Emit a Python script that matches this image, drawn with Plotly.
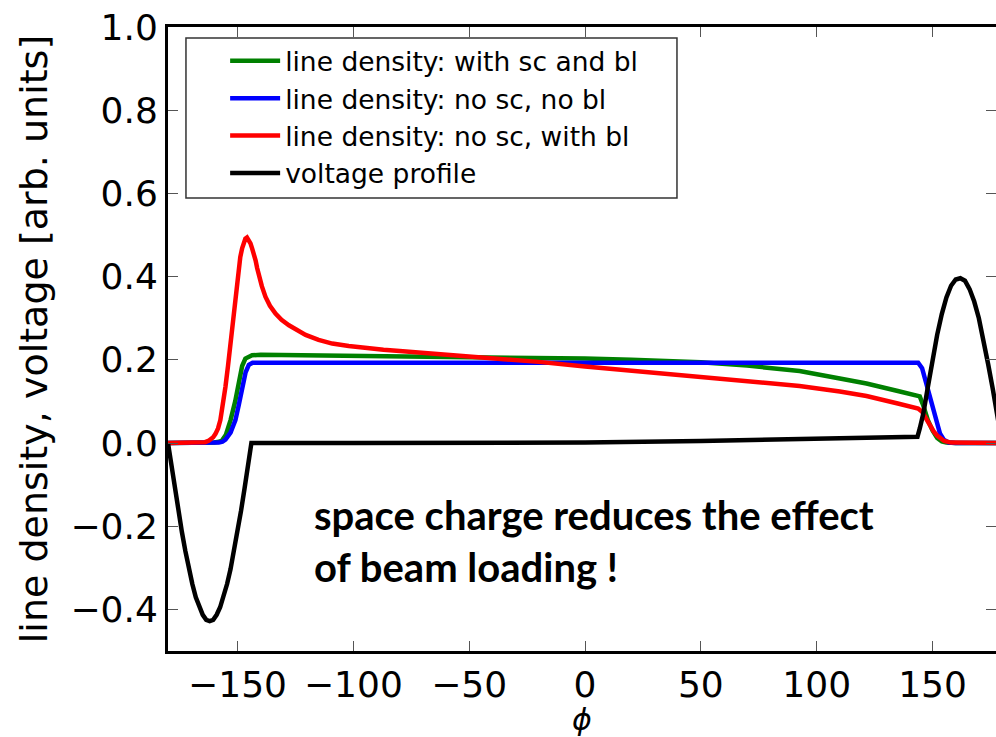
import plotly.graph_objects as go

# ---- data ----
green_x = [-180, -165, -160, -158, -156.7, -155, -153, -151, -149.5, -148, -146.6, -145, -143.7,
           -140, -120, -100, -80, -50, -20, 0, 20, 50, 70, 92.6, 110, 121.5, 135, 144.5,
           146, 148, 150, 152, 154, 156, 160, 180]
green_y = [0, 0, 0.001, 0.003, 0.006, 0.02, 0.055, 0.1, 0.15, 0.185, 0.203, 0.209, 0.211,
           0.212, 0.211, 0.210, 0.209, 0.207, 0.205, 0.203, 0.200, 0.194, 0.186, 0.173, 0.155, 0.143, 0.125, 0.112,
           0.09, 0.055, 0.03, 0.012, 0.004, 0.001, 0, 0]

blue_x = [-180, -162, -158, -156.5, -155.2, -153, -150.9, -149.5, -148, -146.5, -145.1, -143.5, -142,
          143.8, 145.5, 147, 148.5, 150.2, 151.7, 153.2, 155, 157, 160, 180]
blue_y = [0, 0, 0.001, 0.003, 0.008, 0.025, 0.055, 0.09, 0.135, 0.17, 0.188, 0.193, 0.193,
          0.193, 0.18, 0.15, 0.12, 0.087, 0.05, 0.023, 0.007, 0.001, 0, 0]

red_x = [-180, -168, -164, -162.3, -160.5, -159.5, -158.4, -157.4, -156.3, -155.2, -154.1, -153.1,
         -152, -150.9, -149.8, -148.8, -148, -147.3, -146.6, -145.9, -145.2,
         -144.4, -143.7, -142.9, -142.2, -141.5, -140.8, -139.5, -137.9, -136, -133.6, -131, -127.8,
         -124, -120.6, -115, -109.1, -102, -94.7, -87, -80, -70, -60, -42,
         -20, 0, 20, 49.5, 70, 92.6, 110, 121.5, 135, 143.8,
         145.5, 147.4, 149, 150.5, 152, 153.2, 155, 158, 180]
red_y = [0, 0, 0.002, 0.006, 0.014, 0.022, 0.035, 0.055, 0.09, 0.135, 0.185, 0.239,
         0.3, 0.359, 0.41, 0.447, 0.468, 0.483, 0.491, 0.494, 0.489,
         0.48, 0.468, 0.454, 0.439, 0.42, 0.402, 0.377, 0.351, 0.33, 0.311, 0.296, 0.283,
         0.27, 0.26, 0.248, 0.239, 0.233, 0.228, 0.224, 0.221, 0.217, 0.213, 0.206,
         0.195, 0.184, 0.174, 0.159, 0.150, 0.137, 0.124, 0.113, 0.095, 0.083,
         0.075, 0.055, 0.04, 0.028, 0.018, 0.012, 0.005, 0.001, 0]

volt_x = [-180, -178.5, -177, -175.5, -174, -172.5, -171, -169.5, -168, -166.5, -165, -163.5, -162,
          -160.5, -159, -157.5, -156, -154.5, -153, -151.5, -150, -148.5, -147, -145.5, -144,
          -100, -50, 0, 50, 100, 143.5,
          144.5, 146, 148, 150, 152, 154, 156, 158, 160, 162, 164, 166, 168, 170, 172, 174, 176, 178, 180]
volt_y = [0, -0.056, -0.111, -0.164, -0.214, -0.260, -0.303, -0.339, -0.371, -0.395, -0.413, -0.425, -0.428,
          -0.425, -0.413, -0.395, -0.371, -0.339, -0.303, -0.260, -0.214, -0.164, -0.111, -0.056, 0,
          0.0, 0.0, 0.001, 0.005, 0.009, 0.015,
          0.035, 0.07, 0.135, 0.20, 0.26, 0.31, 0.35, 0.378, 0.393, 0.396, 0.390, 0.37, 0.34, 0.30, 0.25, 0.19, 0.13, 0.065, 0.0]

names = ["line density: with sc and bl", "line density: no sc, no bl",
         "line density: no sc, with bl", "voltage profile"]
colors = ["#008000", "#0000ff", "#ff0000", "#000000"]

x_ticks = [-150, -100, -50, 0, 50, 100, 150]
y_ticks = [-0.4, -0.2, 0.0, 0.2, 0.4, 0.6, 0.8, 1.0]
note = "space charge reduces the effect<br>of beam loading !"

fig = go.Figure()
for xs, ys, nm, c in zip([green_x, blue_x, red_x, volt_x], [green_y, blue_y, red_y, volt_y], names, colors):
    fig.add_trace(go.Scatter(x=xs, y=ys, name=nm, mode="lines",
                             line=dict(color=c, width=4.5)))

tick_font = dict(family="DejaVu Sans", size=36, color="black")
fig.update_layout(
    width=996, height=737,
    margin=dict(l=168, r=0, t=27, b=86, autoexpand=False),
    paper_bgcolor="white", plot_bgcolor="white",
    showlegend=True,
    legend=dict(x=0.069, y=0.984, xanchor="left", yanchor="top",
                font=dict(family="DejaVu Sans", size=26.5, color="black"),
                bgcolor="rgba(0,0,0,0)", borderwidth=0,
                tracegroupgap=0, itemwidth=50),
    xaxis=dict(range=[-180, 177.4], tickvals=x_ticks, ticks="inside", ticklen=10,
               tickwidth=1, tickcolor="#555555", showline=True, linecolor="black",
               linewidth=3, mirror="ticks", showgrid=False, zeroline=False,
               tickfont=tick_font, automargin=False,
               title=dict(text="<i>ϕ</i>", font=dict(family="DejaVu Sans", size=30, color="black"),
                          standoff=8)),
    yaxis=dict(range=[-0.5, 1.0], tickvals=y_ticks, tickformat=".1f", ticks="inside", ticklen=10,
               tickwidth=1, tickcolor="#555555", showline=True, linecolor="black",
               linewidth=3, mirror="ticks", showgrid=False, zeroline=False,
               tickfont=tick_font, automargin=False,
               title=dict(text="line density, voltage [arb. units]",
                          font=dict(family="DejaVu Sans", size=38, color="black"), standoff=12)),
)
# legend frame (matplotlib-style box)
fig.add_shape(type="rect", xref="paper", yref="paper", x0=0.0217, x1=0.6147, y0=0.726, y1=0.9824,
              line=dict(color="#333333", width=1.5), fillcolor="white", layer="below")
fig.add_annotation(x=-118, y=-0.236, xref="x", yref="y", text=note, showarrow=False,
                   xanchor="left", yanchor="middle", align="left",
                   font=dict(family="Lato", size=40, color="black", weight="bold"))

fig.write_html("out.html")
